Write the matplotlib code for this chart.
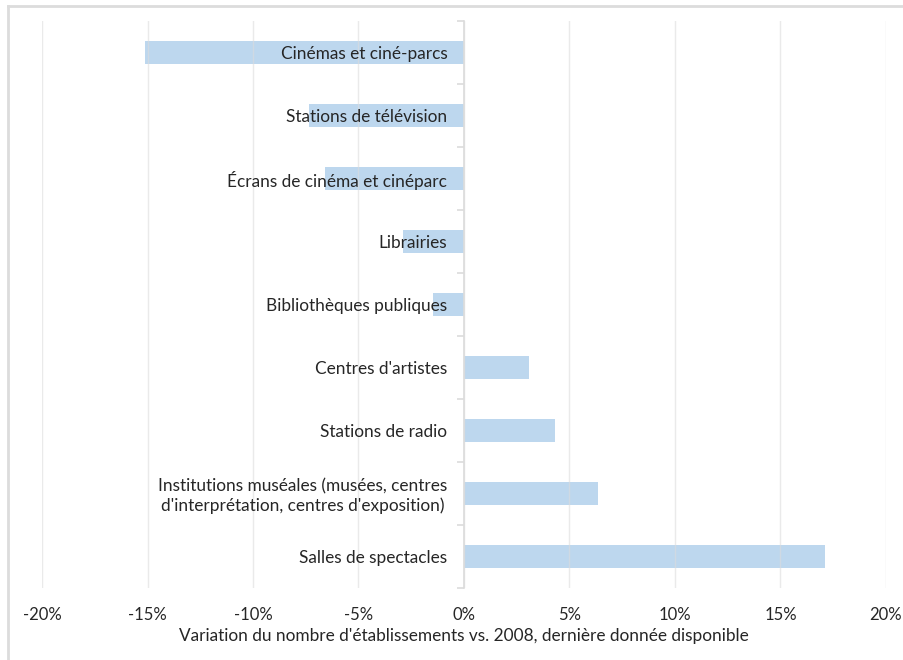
import matplotlib
matplotlib.use("Agg")
import matplotlib.pyplot as plt
from matplotlib.lines import Line2D
from matplotlib.ticker import FuncFormatter, MultipleLocator

plt.rcParams['font.family'] = ['Lato', 'DejaVu Sans']

# Données : variation du nombre d'établissements vs. 2008
categories = [
    "Cinémas et ciné-parcs",
    "Stations de télévision",
    "Écrans de cinéma et cinéparc",
    "Librairies",
    "Bibliothèques publiques",
    "Centres d'artistes",
    "Stations de radio",
    "Institutions muséales (musées, centres\nd'interprétation, centres d'exposition)",
    "Salles de spectacles",
]
variations = [-15.1, -7.35, -6.6, -2.9, -1.45, 3.1, 4.3, 6.35, 17.1]
ticks_x = [-20, -15, -10, -5, 0, 5, 10, 15, 20]
titre_x = "Variation du nombre d'établissements vs. 2008, dernière donnée disponible"

gris = "#dcdcdc"
texte = "#262626"

fig = plt.figure(figsize=(9.04, 6.60), dpi=100)
ax = fig.add_axes([42 / 904, 72 / 660, 844 / 904, 567 / 660])

pos = list(range(len(categories)))
ax.barh(pos, variations, height=0.35, color="#bdd7ee", zorder=1)
# les étiquettes et la grille passent au-dessus des barres
ax.set_axisbelow(False)

ax.set_xlim(-20, 20)
ax.set_ylim(len(categories) - 0.5, -0.5)

# grille verticale
ax.set_xticks(ticks_x)
ax.xaxis.set_major_formatter(FuncFormatter(lambda v, p: "{:.0f}%".format(v)))
ax.grid(axis="x", color=gris, linewidth=1.0, alpha=0.6)
ax.tick_params(axis="x", length=0, pad=14, labelsize=12, labelcolor=texte)

# axe vertical au zéro
for s in ["top", "right", "bottom"]:
    ax.spines[s].set_visible(False)
ax.spines["left"].set_position(("data", 0))
ax.spines["left"].set_color(gris)
ax.spines["left"].set_linewidth(1.2)

ax.set_yticks(pos)
ax.set_yticklabels(categories, multialignment="center")
ax.yaxis.set_minor_locator(MultipleLocator(1, offset=0.5))
ax.tick_params(axis="y", which="major", length=0, pad=12, labelsize=12.4,
               labelcolor=texte)
ax.tick_params(axis="y", which="minor", length=5, color=gris, width=1.2)

ax.set_xlabel(titre_x, fontsize=12.4, color=texte, labelpad=3)

# cadre du graphique
fig.add_artist(Line2D([8 / 904, 8 / 904], [0, 1 - 6 / 660], color=gris, linewidth=2))
fig.add_artist(Line2D([8 / 904, 1], [1 - 6 / 660, 1 - 6 / 660], color=gris, linewidth=2))

fig.savefig("out.png", dpi=100, facecolor="white")
